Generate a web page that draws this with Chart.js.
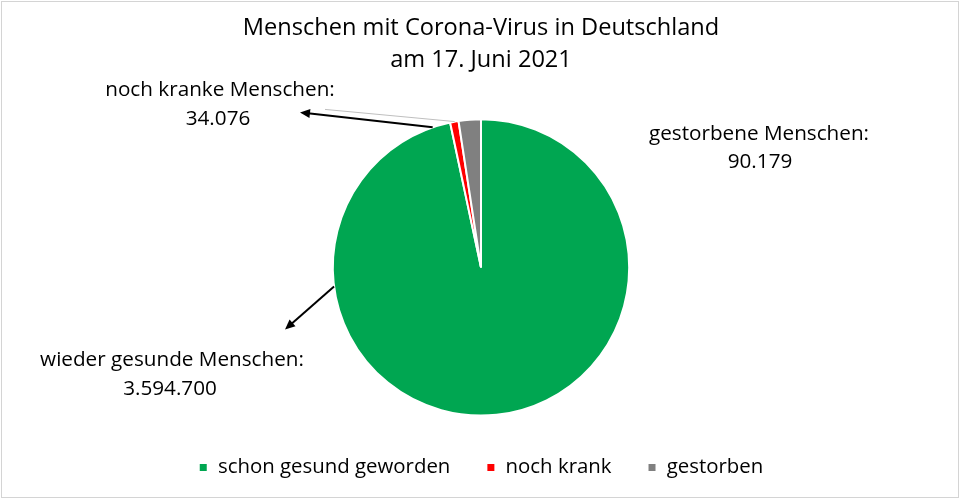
<!DOCTYPE html>
<html>
<head>
<meta charset="utf-8">
<script src="https://cdn.jsdelivr.net/npm/chart.js@4/dist/chart.umd.min.js"></script>
<style>
  html, body { margin: 0; padding: 0; background: #fff; }
  #wrap { width: 960px; height: 499px; position: relative; }
</style>
</head>
<body>
<div id="wrap"><canvas id="c" width="960" height="499"></canvas></div>
<script>
const categories = ['schon gesund geworden', 'noch krank', 'gestorben'];
const values = [3594700, 34076, 90179];
const colors = ['#00a651', '#ff0000', '#808080'];
const titleLines = ['Menschen mit Corona-Virus in Deutschland', 'am 17. Juni 2021'];
const calloutNames = ['wieder gesunde Menschen:', 'noch kranke Menschen:', 'gestorbene Menschen:'];
const calloutValues = ['3.594.700', '34.076', '90.179'];

const FONT = '"Open Sans", "Noto Sans", sans-serif';
const TXT = 20.7;
const LEG = 20.4;

const frame = {
  id: 'frame',
  beforeDraw(chart) {
    const ctx = chart.ctx;
    ctx.save();
    ctx.fillStyle = '#fff';
    ctx.fillRect(0, 0, chart.width, chart.height);
    ctx.strokeStyle = '#d4d4d4';
    ctx.lineWidth = 1;
    ctx.strokeRect(1.5, 1.5, chart.width - 3, chart.height - 3);
    ctx.restore();
  }
};

function arrow(ctx, x1, y1, x2, y2) {
  const a = Math.atan2(y2 - y1, x2 - x1);
  const L = 10, W = 4.5;
  ctx.beginPath();
  ctx.moveTo(x1, y1);
  ctx.lineTo(x2 - Math.cos(a) * (L - 2), y2 - Math.sin(a) * (L - 2));
  ctx.stroke();
  ctx.beginPath();
  ctx.moveTo(x2, y2);
  ctx.lineTo(x2 - Math.cos(a) * L - Math.sin(a) * W, y2 - Math.sin(a) * L + Math.cos(a) * W);
  ctx.lineTo(x2 - Math.cos(a) * L + Math.sin(a) * W, y2 - Math.sin(a) * L - Math.cos(a) * W);
  ctx.closePath();
  ctx.fill();
}

const callouts = {
  id: 'callouts',
  afterDraw(chart) {
    const ctx = chart.ctx;
    const arcs = chart.getDatasetMeta(0).data;
    const g = arcs[0], red = arcs[1], gray = arcs[2];
    const cx = g.x, cy = g.y, r = g.outerRadius;
    const deg = Math.PI / 180;
    const onCircle = (ang, k) => [cx + Math.cos(ang) * r * k, cy + Math.sin(ang) * r * k];

    ctx.save();
    ctx.font = TXT + 'px ' + FONT;
    ctx.fillStyle = '#000';
    ctx.textAlign = 'center';
    ctx.textBaseline = 'middle';
    ctx.fillText(calloutNames[1], cx - 261, cy - 177);
    ctx.fillText(calloutValues[1], cx - 263, cy - 148);
    ctx.fillText(calloutNames[2], cx + 278, cy - 133);
    ctx.fillText(calloutValues[2], cx + 279, cy - 105);
    ctx.fillText(calloutNames[0], cx - 309, cy + 93);
    ctx.fillText(calloutValues[0], cx - 311, cy + 122);

    // thin grey leader from gray slice
    const gs = onCircle(gray.startAngle - 1.5 * deg, 1.0);
    ctx.strokeStyle = '#bfbfbf';
    ctx.lineWidth = 1;
    ctx.beginPath();
    ctx.moveTo(gs[0], gs[1]);
    ctx.lineTo(cx - 156, cy - 158);
    ctx.stroke();

    // arrows
    ctx.strokeStyle = '#000';
    ctx.fillStyle = '#000';
    ctx.lineWidth = 2;
    const a1 = onCircle(red.startAngle - 7 * deg, 1.0);
    arrow(ctx, a1[0], a1[1], cx - 181, cy - 155);
    const a2 = onCircle(g.startAngle + 262.6 * deg, 1.0);
    arrow(ctx, a2[0], a2[1], cx - 196, cy + 62);
    ctx.restore();
  }
};

new Chart(document.getElementById('c'), {
  type: 'pie',
  data: {
    labels: categories,
    datasets: [{
      data: values,
      backgroundColor: colors,
      borderColor: '#ffffff',
      borderWidth: 2
    }]
  },
  options: {
    responsive: false,
    animation: false,
    devicePixelRatio: 1,
    layout: { padding: { left: 2, right: 0, top: 0, bottom: 11.4 } },
    plugins: {
      title: {
        display: true,
        text: titleLines,
        color: '#000',
        font: { family: FONT, size: 23.6, weight: 'normal', lineHeight: 1.35 },
        padding: { top: 12, bottom: 42.5 }
      },
      legend: {
        display: true,
        position: 'bottom',
        title: { display: true, text: '', font: { size: 1 }, padding: { top: 0, bottom: 3.4 } },
        labels: {
          boxWidth: 9,
          boxHeight: 9,
          padding: 36,
          color: '#000',
          font: { family: FONT, size: LEG }
        }
      },
      tooltip: { enabled: false }
    }
  },
  plugins: [frame, callouts]
});
</script>
</body>
</html>
